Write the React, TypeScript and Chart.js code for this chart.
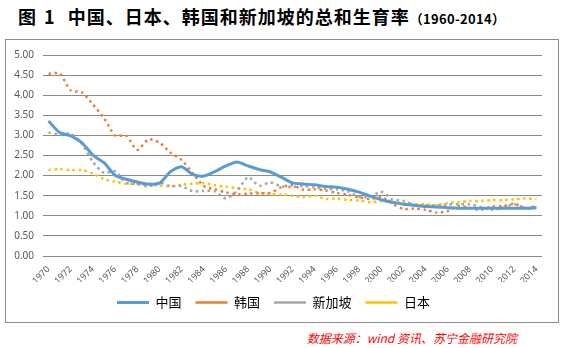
import React, { useEffect, useRef } from "react";
import { Chart, registerables } from "chart.js";

Chart.register(...registerables);

const years = [
  "1970", "1971", "1972", "1973", "1974", "1975", "1976", "1977", "1978", "1979",
  "1980", "1981", "1982", "1983", "1984", "1985", "1986", "1987", "1988", "1989",
  "1990", "1991", "1992", "1993", "1994", "1995", "1996", "1997", "1998", "1999",
  "2000", "2001", "2002", "2003", "2004", "2005", "2006", "2007", "2008", "2009",
  "2010", "2011", "2012", "2013", "2014",
];

const china = [
  3.36, 3.07, 2.99, 2.82, 2.51, 2.32, 2.01, 1.91, 1.84, 1.79,
  1.81, 2.10, 2.22, 2.03, 1.99, 2.10, 2.24, 2.34, 2.24, 2.15,
  2.09, 1.96, 1.82, 1.79, 1.77, 1.73, 1.71, 1.66, 1.59, 1.49,
  1.40, 1.34, 1.29, 1.26, 1.23, 1.22, 1.20, 1.19, 1.19, 1.19,
  1.19, 1.19, 1.19, 1.19, 1.20,
];

const korea = [
  4.53, 4.54, 4.12, 4.07, 3.77, 3.43, 3.00, 2.99, 2.64, 2.90,
  2.82, 2.57, 2.39, 2.06, 1.74, 1.66, 1.58, 1.53, 1.55, 1.56,
  1.57, 1.71, 1.76, 1.65, 1.66, 1.63, 1.57, 1.52, 1.46, 1.42,
  1.47, 1.30, 1.17, 1.18, 1.15, 1.08, 1.12, 1.25, 1.19, 1.15,
  1.23, 1.24, 1.30, 1.19, 1.21,
];

const singapore = [
  3.07, 3.02, 3.04, 2.79, 2.34, 2.07, 2.11, 1.82, 1.79, 1.73,
  1.82, 1.74, 1.74, 1.61, 1.62, 1.61, 1.43, 1.62, 1.96, 1.75,
  1.83, 1.73, 1.72, 1.74, 1.71, 1.67, 1.66, 1.61, 1.47, 1.47,
  1.60, 1.41, 1.37, 1.27, 1.26, 1.26, 1.28, 1.29, 1.28, 1.22,
  1.15, 1.20, 1.29, 1.19, 1.25,
];

const japan = [
  2.14, 2.16, 2.14, 2.14, 2.05, 1.91, 1.85, 1.80, 1.79, 1.77,
  1.75, 1.74, 1.77, 1.80, 1.81, 1.76, 1.72, 1.69, 1.66, 1.57,
  1.54, 1.53, 1.50, 1.46, 1.50, 1.42, 1.43, 1.39, 1.38, 1.34,
  1.36, 1.33, 1.32, 1.29, 1.29, 1.26, 1.32, 1.34, 1.37, 1.37,
  1.39, 1.39, 1.41, 1.43, 1.42,
];

const seriesNames = ["中国", "韩国", "新加坡", "日本"];
const titleLead = "图 1";
const titleText = "中国、日本、韩国和新加坡的总和生育率";
const titleSuffix = "（1960-2014）";
const sourceText = "数据来源：wind 资讯、苏宁金融研究院";

const FONT = "'Noto Sans', 'Noto Sans CJK SC', sans-serif";
const CJK = "'Noto Sans CJK SC', sans-serif";

export default function App() {
  const canvasRef = useRef<HTMLCanvasElement | null>(null);

  useEffect(() => {
    if (!canvasRef.current) return;
    const dotted = [2.5, 3.5];
    const chart = new Chart(canvasRef.current, {
      type: "line",
      data: {
        labels: years,
        datasets: [
          {
            label: seriesNames[0],
            data: china,
            borderColor: "#5B9BD5",
            backgroundColor: "#5B9BD5",
            borderWidth: 3,
            pointRadius: 0,
            tension: 0.25,
          },
          {
            label: seriesNames[1],
            data: korea,
            borderColor: "#ED7D31",
            backgroundColor: "#ED7D31",
            borderWidth: 2.5,
            borderDash: dotted,
            pointRadius: 0,
            tension: 0.25,
          },
          {
            label: seriesNames[2],
            data: singapore,
            borderColor: "#A5A5A5",
            backgroundColor: "#A5A5A5",
            borderWidth: 2.5,
            borderDash: dotted,
            pointRadius: 0,
            tension: 0.25,
          },
          {
            label: seriesNames[3],
            data: japan,
            borderColor: "#FFC000",
            backgroundColor: "#FFC000",
            borderWidth: 2.5,
            borderDash: dotted,
            pointRadius: 0,
            tension: 0.25,
          },
        ],
      },
      options: {
        animation: false,
        responsive: false,
        maintainAspectRatio: false,
        layout: { padding: { left: 0, right: 16, top: 13, bottom: 3 } },
        plugins: {
          title: { display: false },
          tooltip: { enabled: false },
          legend: {
            display: true,
            position: "bottom",
            labels: {
              usePointStyle: true,
              pointStyle: "line",
              pointStyleWidth: 32,
              padding: 14,
              color: "#000",
              font: { family: CJK, size: 13 },
            },
          },
        },
        scales: {
          x: {
            offset: true,
            grid: { display: false, drawTicks: false },
            border: { display: false },
            ticks: {
              autoSkip: false,
              maxRotation: 45,
              minRotation: 45,
              padding: 8,
              color: "#595959",
              font: { family: FONT, size: 9 },
              callback: (_v: any, i: number) => (i % 2 === 0 ? years[i] : ""),
            },
            afterFit: (s: any) => {
              s.height = 26;
            },
          },
          y: {
            min: 0,
            max: 5,
            grid: { color: "#8a8a8a", lineWidth: 1, drawTicks: false },
            border: { display: false },
            ticks: {
              stepSize: 0.5,
              padding: 9,
              color: "#595959",
              font: { family: FONT, size: 10 },
              callback: (v: any) => Number(v).toFixed(2),
            },
            afterFit: (s: any) => {
              s.width = 38;
            },
          },
        },
      },
    });
    return () => chart.destroy();
  }, []);

  return (
    <div
      style={{
        position: "fixed",
        left: 0,
        top: 0,
        width: 566,
        height: 348,
        background: "#fff",
        overflow: "hidden",
      }}
    >
      <div
        style={{
          position: "absolute",
          left: 18,
          top: 4,
          whiteSpace: "nowrap",
          fontFamily: CJK,
          fontWeight: 700,
          fontSize: 18,
          color: "#000",
          lineHeight: "24px",
        }}
      >
        <span style={{ letterSpacing: 2 }}>{titleLead}</span>
        <span style={{ display: "inline-block", width: 11 }} />
        <span style={{ letterSpacing: 1 }}>{titleText}</span>
        <span style={{ fontSize: 13, letterSpacing: 0.3 }}>{titleSuffix}</span>
      </div>
      <div
        style={{
          position: "absolute",
          left: 5,
          top: 39,
          width: 554,
          height: 284,
          boxSizing: "border-box",
          border: "1px solid #8c8c8c",
        }}
      />
      <canvas
        ref={canvasRef}
        width={553}
        height={282}
        style={{ position: "absolute", left: 5, top: 40, width: 553, height: 282 }}
      />
      <div
        style={{
          position: "absolute",
          right: 49,
          top: 329,
          whiteSpace: "nowrap",
          fontFamily: CJK,
          fontStyle: "italic",
          fontSize: 12,
          color: "#ff0000",
          lineHeight: "17px",
        }}
      >
        {sourceText}
      </div>
    </div>
  );
}
